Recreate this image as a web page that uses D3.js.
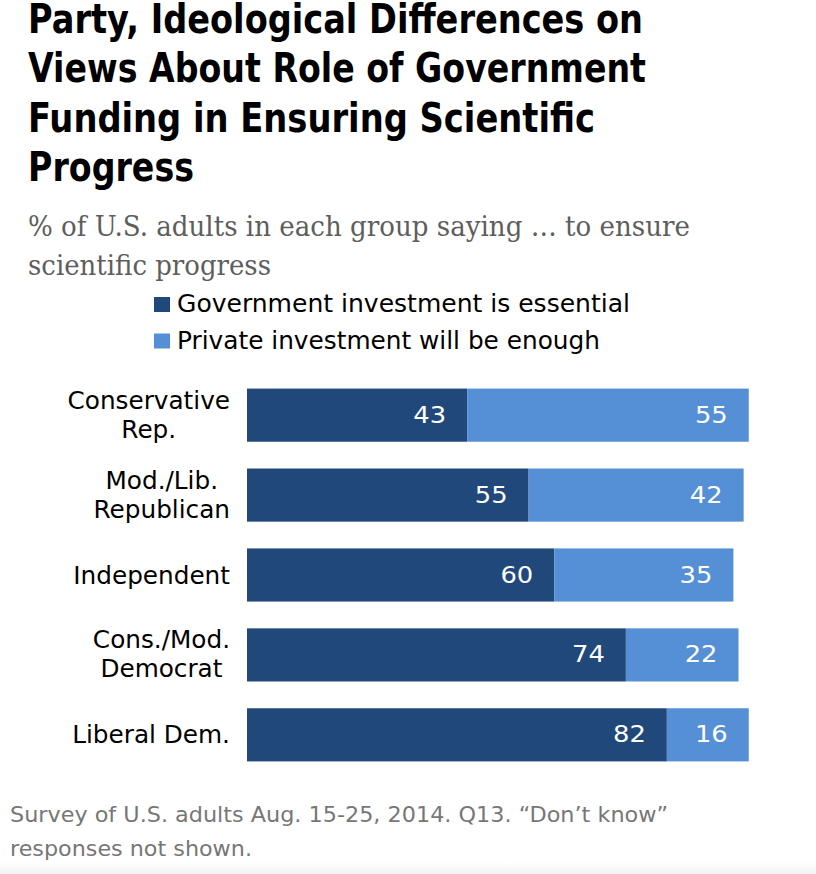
<!DOCTYPE html>
<html><head><meta charset="utf-8">
<script src="https://cdn.jsdelivr.net/npm/d3@7"></script>
<style>
html,body{margin:0;padding:0;background:#fff;}
svg{display:block;}
</style></head>
<body>
<script>
const titleLines = ["Party, Ideological Differences on", "Views About Role of Government", "Funding in Ensuring Scientific", "Progress"];
const subtitleLines = ["% of U.S. adults in each group saying \u2026 to ensure", "scientific progress"];
const seriesNames = ["Government investment is essential", "Private investment will be enough"];
const categories = [["Conservative", "Rep."], ["Mod./Lib.", "Republican"], ["Independent"], ["Cons./Mod.", "Democrat"], ["Liberal Dem."]];
const governmentValues = [43, 55, 60, 74, 82];
const privateValues = [55, 42, 35, 22, 16];
const noteLines = ["Survey of U.S. adults Aug. 15-25, 2014. Q13. \u201CDon\u2019t know\u201D", "responses not shown."];

const W = 816, H = 874;
const colors = ["#21487a", "#558fd5"];
const sans = "'DejaVu Sans','Liberation Sans',sans-serif";

const svg = d3.select("body").append("svg").attr("width", W).attr("height", H);

function fitText(sel, width) {
  sel.attr("textLength", width).attr("lengthAdjust", "spacingAndGlyphs");
}
function stretch(sel, k) {
  const w = sel.node().getComputedTextLength();
  sel.attr("textLength", w * k).attr("lengthAdjust", "spacingAndGlyphs");
}

// faint footer shading
const grad = svg.append("defs").append("linearGradient").attr("id", "foot").attr("x1", 0).attr("x2", 0).attr("y1", 0).attr("y2", 1);
grad.append("stop").attr("offset", 0).attr("stop-color", "#fff");
grad.append("stop").attr("offset", 1).attr("stop-color", "#f2f2f2");
svg.append("rect").attr("x", 0).attr("y", 862).attr("width", W).attr("height", 12).attr("fill", "url(#foot)");

// Title
const titleW = [615, 618, 567, 166];
titleLines.forEach((t, i) => {
  svg.append("text").attr("x", 28).attr("y", 33 + i * 49.3)
    .attr("font-family", sans).attr("font-weight", "bold").attr("font-size", 40)
    .attr("fill", "#000").text(t).call(fitText, titleW[i]);
});

// Subtitle
const subW = [662, 243];
subtitleLines.forEach((t, i) => {
  svg.append("text").attr("x", 28).attr("y", 236 + i * 39)
    .attr("font-family", "'DejaVu Serif','Liberation Serif',serif").attr("font-size", 27)
    .attr("fill", "#5e5e5e").text(t).call(fitText, subW[i]);
});

// Legend
const legW = [453, 423];
seriesNames.forEach((t, i) => {
  const y = 297 + i * 36.5;
  svg.append("rect").attr("x", 154).attr("y", y).attr("width", 16).attr("height", 15).attr("fill", colors[i]);
  svg.append("text").attr("x", 177).attr("y", y + 15)
    .attr("font-family", sans).attr("font-size", 24).attr("fill", "#000")
    .text(t).call(fitText, legW[i]);
});

// Scales
const x = d3.scaleLinear().domain([0, 100]).range([247, 247 + 512]);
const y = d3.scaleBand().domain(d3.range(categories.length)).range([375, 775]).paddingInner(0.335).paddingOuter(0.17);

const rows = svg.append("g").selectAll("g").data(categories).join("g");

rows.each(function(lines, i) {
  const g = d3.select(this);
  const g0 = governmentValues[i], p0 = privateValues[i];
  const y0 = y(i), bh = y.bandwidth();
  const mid = y0 + bh / 2;
  g.append("rect").attr("x", x(0)).attr("y", y0).attr("width", x(g0) - x(0)).attr("height", bh).attr("fill", colors[0]);
  g.append("rect").attr("x", x(g0)).attr("y", y0).attr("width", x(g0 + p0) - x(g0)).attr("height", bh).attr("fill", colors[1]);
  [[g0, x(g0)], [p0, x(g0 + p0)]].forEach(([v, xe]) => {
    g.append("text").attr("x", xe - 21).attr("y", mid + 7.5).attr("text-anchor", "end")
      .attr("font-family", sans).attr("font-size", 23).attr("fill", "#fff").text(v).call(stretch, 1.12);
  });

  // category labels: block right-aligned at 230, lines centered within block
  const texts = lines.map(l => g.append("text").attr("font-family", sans).attr("font-size", 24).attr("fill", "#000").attr("text-anchor", "middle").text(l).call(stretch, 1.03));
  const maxW = d3.max(texts, t => +t.attr("textLength"));
  const cx = 230 - maxW / 2;
  texts.forEach((t, k) => {
    const off = lines.length === 1 ? 8.5 : (k === 0 ? -6.5 : 22.5);
    t.attr("x", cx).attr("y", mid + off);
  });
});

// Note
const noteW = [658, 242];
noteLines.forEach((t, i) => {
  svg.append("text").attr("x", 10).attr("y", 822 + i * 34)
    .attr("font-family", sans).attr("font-size", 22).attr("fill", "#777")
    .text(t).call(fitText, noteW[i]);
});
</script>
</body></html>
